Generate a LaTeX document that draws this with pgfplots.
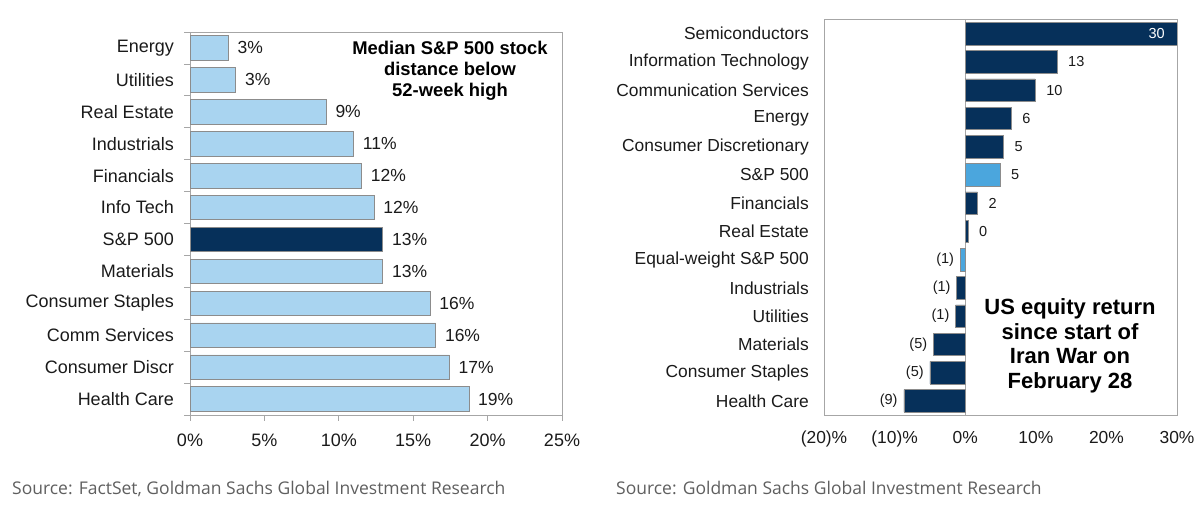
\documentclass[border=0pt]{standalone}
\usepackage{pgfplots}
\pgfplotsset{compat=1.18}
\usepackage{fontspec}
\setmainfont{Liberation Sans}
\newfontfamily\srcfont{Open Sans}
\definecolor{lightbar}{HTML}{A9D4F0}
\definecolor{navy}{HTML}{06305A}
\definecolor{midblue}{HTML}{4BA6DD}
\definecolor{axgray}{HTML}{A6A6A6}
\definecolor{barborder}{HTML}{8C8C8C}
\definecolor{srcgray}{HTML}{5F5F5F}
\definecolor{lab}{HTML}{1A1A1A}
\begin{document}
\begin{tikzpicture}[x=1bp,y=1bp]
\path[use as bounding box] (0,0) rectangle (1200,511);

% ---------------- left chart ----------------
\begin{axis}[
  at={(190bp,96bp)}, anchor=south west, scale only axis,
  width=372bp, height=383bp,
  xbar, bar width=24.5bp, bar shift=0pt,
  xmin=0, xmax=25, ymin=-0.5, ymax=11.5, y dir=reverse,
  xtick={0,5,10,15,20,25}, xticklabels={0\%,5\%,10\%,15\%,20\%,25\%},
  ytick={0,...,11},
  yticklabels={Energy,Utilities,Real Estate,Industrials,Financials,Info Tech,S\&P 500,Materials,Consumer Staples,Comm Services,Consumer Discr,Health Care},
  minor ytick={-0.5,0.5,...,11.5},
  tick align=outside, xtick pos=bottom, ytick pos=left,
  major tick length=6bp, minor tick length=6bp,
  tick style={axgray, line width=0.8bp},
  major y tick style={draw=none},
  axis line style={axgray, line width=0.8bp},
  ticklabel style={font=\fontsize{18bp}{21bp}\selectfont, text=lab},
  yticklabel style={inner sep=0pt, xshift=-10bp},
  xticklabel style={inner sep=0pt, yshift=-13bp},
  nodes near coords, point meta=explicit symbolic,
  every node near coord/.append style={anchor=west, inner sep=0pt, xshift=9bp,
     font=\fontsize{17.5bp}{20bp}\selectfont, text=lab},
]
\addplot[fill=lightbar, draw=barborder, line width=0.7bp] coordinates {
  (2.58,0) [3\%]
  (3.07,1) [3\%]
  (9.15,2) [9\%]
  (10.99,3) [11\%]
  (11.53,4) [12\%]
  (12.37,5) [12\%]
  (12.96,7) [13\%]
  (16.13,8) [16\%]
  (16.51,9) [16\%]
  (17.43,10) [17\%]
  (18.74,11) [19\%]
};
\addplot[fill=navy, draw=barborder, line width=0.7bp] coordinates {
  (12.96,6) [13\%]
};
\end{axis}

% ---------------- right chart ----------------
\begin{axis}[
  at={(824bp,96bp)}, anchor=south west, scale only axis,
  width=353bp, height=395.5bp,
  xbar, bar width=22.3bp, bar shift=0pt,
  xmin=-20, xmax=30, ymin=-0.5, ymax=13.5, y dir=reverse,
  xtick={-20,-10,0,10,20,30}, xticklabels={(20)\%,(10)\%,0\%,10\%,20\%,30\%},
  extra x ticks={0}, extra x tick labels={},
  extra x tick style={grid=major, major grid style={axgray, line width=0.9bp}},
  ytick={0,...,13},
  yticklabels={Semiconductors,Information Technology,Communication Services,Energy,Consumer Discretionary,S\&P 500,Financials,Real Estate,Equal-weight S\&P 500,Industrials,Utilities,Materials,Consumer Staples,Health Care},
  major tick length=0pt,
  axis line style={axgray, line width=0.9bp},
  ticklabel style={font=\fontsize{17.4bp}{20bp}\selectfont, text=lab},
  yticklabel style={inner sep=0pt, xshift=-15bp},
  xticklabel style={inner sep=0pt, yshift=-16bp},
  point meta=explicit symbolic,
]
\addplot[fill=navy, draw=barborder, line width=0.5bp,
  nodes near coords,
  every node near coord/.append style={anchor=west, inner sep=0pt, xshift=11bp,
     font=\fontsize{14.5bp}{16bp}\selectfont, text=lab}] coordinates {
  (13.0,1) [13]
  (9.9,2) [10]
  (6.5,3) [6]
  (5.4,4) [5]
  (1.74,6) [2]
  (0.38,7) [0]
};
\addplot[fill=navy, draw=barborder, line width=0.5bp,
  nodes near coords,
  every node near coord/.append style={anchor=east, inner sep=0pt, xshift=-12bp,
     font=\fontsize{14.5bp}{16bp}\selectfont, text=white}] coordinates {
  (30,0) [30]
};
\addplot[fill=navy, draw=barborder, line width=0.5bp,
  nodes near coords,
  every node near coord/.append style={anchor=east, inner sep=0pt, xshift=-6bp,
     font=\fontsize{14.5bp}{16bp}\selectfont, text=lab}] coordinates {
  (-1.2,9) [(1)]
  (-1.36,10) [(1)]
  (-4.5,11) [(5)]
  (-5.0,12) [(5)]
  (-8.7,13) [(9)]
};
\addplot[fill=midblue, draw=barborder, line width=0.5bp,
  nodes near coords,
  every node near coord/.append style={anchor=west, inner sep=0pt, xshift=11bp,
     font=\fontsize{14.5bp}{16bp}\selectfont, text=lab}] coordinates {
  (4.9,5) [5]
};
\addplot[fill=midblue, draw=barborder, line width=0.5bp,
  nodes near coords,
  every node near coord/.append style={anchor=east, inner sep=0pt, xshift=-6bp,
     font=\fontsize{14.5bp}{16bp}\selectfont, text=lab}] coordinates {
  (-0.7,8) [(1)]
};
\end{axis}

% ---------------- annotations ----------------
\node[font=\bfseries\fontsize{18.4bp}{21bp}\selectfont, align=center, text=black]
  at (450,440.5) {Median S\&P 500 stock\\distance below\\52-week high};
\node[font=\bfseries\fontsize{22bp}{24.7bp}\selectfont, align=center, text=black]
  at (1070,165.3) {US equity return\\since start of\\Iran War on\\February 28};

\node[anchor=base west, inner sep=0pt, font=\srcfont\fontsize{17.5bp}{20bp}\selectfont, text=srcgray]
  at (12,16) {Source: FactSet, Goldman Sachs Global Investment Research};
\node[anchor=base west, inner sep=0pt, font=\srcfont\fontsize{17.5bp}{20bp}\selectfont, text=srcgray]
  at (616,16) {Source: Goldman Sachs Global Investment Research};
\end{tikzpicture}
\end{document}
